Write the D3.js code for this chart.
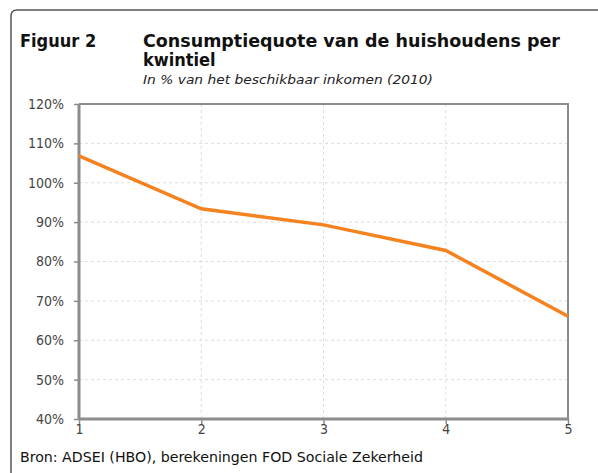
<!DOCTYPE html>
<html>
<head>
<meta charset="utf-8">
<script src="https://cdn.jsdelivr.net/npm/d3@7"></script>
<style>
  body { margin: 0; background: #fff; }
  svg { display: block; font-family: "DejaVu Sans", sans-serif; }
</style>
</head>
<body>
<svg width="598" height="473"></svg>
<script>
// quintiles and consumption ratio (% of disposable income, 2010)
var quintiles = [1, 2, 3, 4, 5];
var ratio = [106.8, 93.4, 89.3, 82.8, 66.1];
var yTicks = [40, 50, 60, 70, 80, 90, 100, 110, 120];

var svg = d3.select('svg');

var padding = { t: 104, r: 30, b: 54, l: 79 };
var chartWidth = 568 - padding.l;
var chartHeight = 419 - padding.t;

// outer frame, rounded corner top-left
svg.append('path')
    .attr('d', 'M11,473 L11,16 Q11,10 17,10 L598,10')
    .attr('fill', 'none')
    .attr('stroke', '#555')
    .attr('stroke-width', 1.5);

// titles
svg.append('text').attr('x', 20).attr('y', 47)
    .attr('font-weight', 'bold').attr('font-size', 18).attr('fill', '#111')
    .attr('font-family', '"DejaVu Sans Condensed", "DejaVu Sans", sans-serif')
    .text('Figuur 2');
svg.append('text').attr('x', 143).attr('y', 47)
    .attr('font-weight', 'bold').attr('font-size', 18).attr('fill', '#111')
    .attr('font-family', '"DejaVu Sans Condensed", "DejaVu Sans", sans-serif')
    .attr('textLength', 417).attr('lengthAdjust', 'spacingAndGlyphs')
    .text('Consumptiequote van de huishoudens per');
svg.append('text').attr('x', 143).attr('y', 66)
    .attr('font-weight', 'bold').attr('font-size', 18).attr('fill', '#111')
    .attr('font-family', '"DejaVu Sans Condensed", "DejaVu Sans", sans-serif')
    .text('kwintiel');
svg.append('text').attr('x', 143).attr('y', 84)
    .attr('font-style', 'italic').attr('font-size', 13).attr('fill', '#222')
    .attr('font-family', '"DejaVu Sans Condensed", "DejaVu Sans", sans-serif')
    .attr('textLength', 290).attr('lengthAdjust', 'spacingAndGlyphs')
    .text('In % van het beschikbaar inkomen (2010)');

var chartG = svg.append('g')
    .attr('transform', `translate(${padding.l}, ${padding.t})`);

var xScale = d3.scaleLinear().domain([1, 5]).range([0, chartWidth]);
var yScale = d3.scaleLinear().domain([40, 120]).range([chartHeight, 0]);

// dashed gridlines
chartG.selectAll('.hgrid')
    .data(yTicks.slice(1, -1))
    .enter().append('line')
    .attr('x1', 0).attr('x2', chartWidth)
    .attr('y1', d => yScale(d)).attr('y2', d => yScale(d))
    .attr('stroke', '#ddd').attr('stroke-dasharray', '3,3');
chartG.selectAll('.vgrid')
    .data(quintiles.slice(1, -1))
    .enter().append('line')
    .attr('y1', 0).attr('y2', chartHeight)
    .attr('x1', d => xScale(d)).attr('x2', d => xScale(d))
    .attr('stroke', '#ddd').attr('stroke-dasharray', '3,3');

// top and right border
chartG.append('path')
    .attr('d', `M0,0 H${chartWidth} V${chartHeight}`)
    .attr('fill', 'none').attr('stroke', '#8c8c8c').attr('stroke-width', 2);

// axes
var yAxis = chartG.append('g')
    .call(d3.axisLeft(yScale).tickValues(yTicks).tickSize(5).tickFormat(d => d + '%'));
var xAxis = chartG.append('g')
    .attr('transform', `translate(0, ${chartHeight})`)
    .call(d3.axisBottom(xScale).tickValues(quintiles).tickSize(5).tickFormat(d3.format('d')));

[yAxis, xAxis].forEach(function (ax) {
    ax.select('.domain').attr('stroke', '#8c8c8c').attr('stroke-width', 3);
    ax.selectAll('.tick line').attr('stroke', '#8c8c8c').attr('stroke-width', 1.5);
    ax.selectAll('.tick text').attr('fill', '#444').attr('font-size', 14)
        .attr('font-family', '"DejaVu Sans Condensed", "DejaVu Sans", sans-serif');
});
yAxis.select('.domain').attr('d', `M0,0 V${chartHeight}`);
xAxis.select('.domain').attr('d', `M0,0 H${chartWidth}`);
yAxis.selectAll('.tick text').attr('x', -15);
xAxis.selectAll('.tick text').attr('y', 5);

// consumption line
var line = d3.line()
    .x((d, i) => xScale(quintiles[i]))
    .y(d => yScale(d));
chartG.append('path')
    .datum(ratio)
    .attr('d', line)
    .attr('fill', 'none')
    .attr('stroke', '#f5821f')
    .attr('stroke-width', 3.5);

// source
svg.append('text').attr('x', 20).attr('y', 462)
    .attr('font-size', 13.5).attr('fill', '#111')
    .attr('font-family', '"DejaVu Sans Condensed", "DejaVu Sans", sans-serif')
    .attr('textLength', 403).attr('lengthAdjust', 'spacingAndGlyphs')
    .text('Bron: ADSEI (HBO), berekeningen FOD Sociale Zekerheid');
</script>
</body>
</html>
